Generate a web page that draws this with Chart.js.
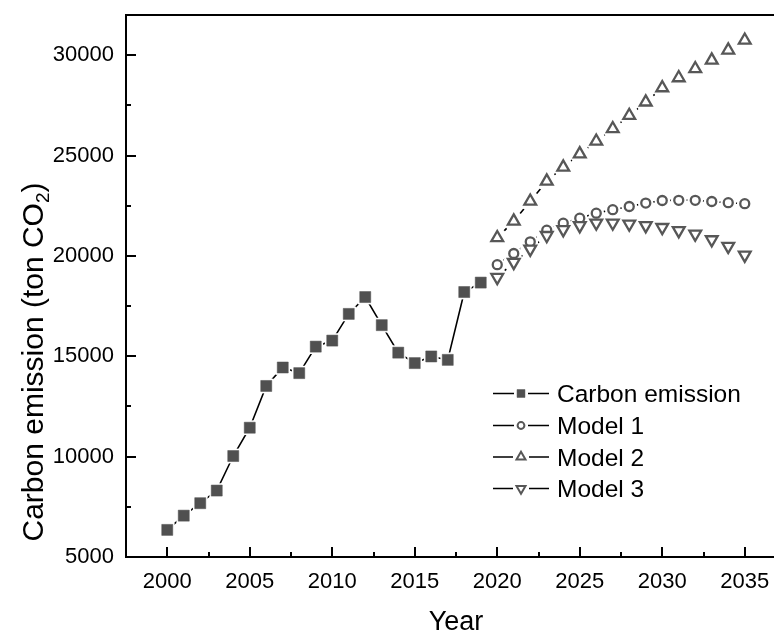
<!DOCTYPE html>
<html>
<head>
<meta charset="utf-8">
<title>Carbon emission and model forecasts</title>
<script src="https://cdn.jsdelivr.net/npm/chart.js@4.4.0/dist/chart.umd.min.js"></script>
<style>
  html, body { margin: 0; padding: 0; background: #fff; overflow: hidden; }
  #wrap { width: 800px; height: 632px; position: relative; }
</style>
</head>
<body>
<div id="wrap"><canvas id="chart"></canvas></div>
<script>
// Observed emissions, 2000-2019 (ton CO2)
const histYears = [2000, 2001, 2002, 2003, 2004, 2005, 2006, 2007, 2008, 2009,
                   2010, 2011, 2012, 2013, 2014, 2015, 2016, 2017, 2018, 2019];
const carbonEmission = [6350, 7060, 7680, 8310, 10030, 11440, 13520, 14440, 14160, 15480,
                        15780, 17110, 17950, 16550, 15180, 14660, 14990, 14820, 18200, 18670];

// Forecasts, 2020-2035
const forecastYears = [2020, 2021, 2022, 2023, 2024, 2025, 2026, 2027,
                       2028, 2029, 2030, 2031, 2032, 2033, 2034, 2035];
const model1 = [19560, 20120, 20700, 21280, 21630, 21880, 22130, 22300,
                22460, 22630, 22760, 22770, 22770, 22710, 22650, 22600];
const model2 = [20900, 21730, 22720, 23720, 24420, 25080, 25710, 26330,
                26990, 27660, 28370, 28870, 29320, 29750, 30250, 30740];
const model3 = [18930, 19680, 20340, 21020, 21310, 21510, 21640, 21640,
                21590, 21510, 21420, 21260, 21090, 20810, 20480, 20040];

const seriesNames = ['Carbon emission', 'Model 1', 'Model 2', 'Model 3'];
const xTickValues = [2000, 2005, 2010, 2015, 2020, 2025, 2030, 2035];
const yTickValues = [5000, 10000, 15000, 20000, 25000, 30000];
const xTitle = 'Year';
const yTitleParts = ['Carbon emission (ton CO', '2', ')'];

const FONT = '"Liberation Sans", Arial, Helvetica, sans-serif';
const MARK = '#575757';
const SQUARE = '#505050';

const toPoints = (xs, ys) => xs.map((x, i) => ({ x: x, y: ys[i] }));

const markerStyles = [
  { pointStyle: 'rect', pointRadius: 7.8, pointRotation: 0, pointBackgroundColor: SQUARE, pointBorderColor: SQUARE, pointBorderWidth: 0.5 },
  { pointStyle: 'circle', pointRadius: 4.5, pointRotation: 0, pointBackgroundColor: '#fff', pointBorderColor: MARK, pointBorderWidth: 2.3 },
  { pointStyle: 'triangle', pointRadius: 6.8, pointRotation: 0, pointBackgroundColor: '#fff', pointBorderColor: MARK, pointBorderWidth: 2.3 },
  { pointStyle: 'triangle', pointRadius: 6.8, pointRotation: 180, pointBackgroundColor: '#fff', pointBorderColor: MARK, pointBorderWidth: 2.3 }
];

const seriesData = [
  toPoints(histYears, carbonEmission),
  toPoints(forecastYears, model1),
  toPoints(forecastYears, model2),
  toPoints(forecastYears, model3)
];

const datasets = seriesData.map((d, i) => Object.assign({
  label: seriesNames[i],
  data: d,
  borderColor: '#000',
  borderWidth: 1.6,
  tension: 0,
  fill: false,
  order: i
}, markerStyles[i]));

// Open gaps in the connecting lines around every marker, then redraw the markers on top
const markerGaps = {
  id: 'markerGaps',
  afterDatasetsDraw(chart) {
    const ctx = chart.ctx;
    const area = chart.chartArea;
    const metas = chart.getSortedVisibleDatasetMetas();
    ctx.save();
    ctx.fillStyle = '#fff';
    metas.forEach(meta => meta.data.forEach(el => {
      const o = el.options;
      const r = o.pointStyle === 'rect' ? o.radius + 2.6 : o.radius + o.borderWidth / 2 + 2.2;
      Chart.helpers.drawPoint(ctx, { pointStyle: o.pointStyle === 'rect' ? 'rect' : 'circle', rotation: 0, radius: r, borderWidth: 0 }, el.x, el.y);
    }));
    ctx.restore();
    metas.forEach(meta => meta.data.forEach(el => el.draw(ctx, area)));
  }
};

// Axis frame with inward major/minor ticks, axis titles and the legend
const frame = {
  id: 'frame',
  afterDraw(chart) {
    const ctx = chart.ctx;
    const a = chart.chartArea;
    const xs = chart.scales.x, ys = chart.scales.y;
    ctx.save();
    ctx.strokeStyle = '#000';
    ctx.lineWidth = 2;
    ctx.lineCap = 'square';
    ctx.beginPath();
    ctx.rect(a.left, a.top, a.right - a.left, a.bottom - a.top);
    ctx.stroke();

    ctx.lineCap = 'butt';
    ctx.beginPath();
    xTickValues.forEach((v, i) => {
      const px = Math.round(xs.getPixelForValue(v));
      ctx.moveTo(px, a.bottom); ctx.lineTo(px, a.bottom - 10);
      if (i < xTickValues.length - 1) {
        const mx = Math.round(xs.getPixelForValue((v + xTickValues[i + 1]) / 2));
        ctx.moveTo(mx, a.bottom); ctx.lineTo(mx, a.bottom - 5);
      }
    });
    yTickValues.forEach((v, i) => {
      const py = Math.round(ys.getPixelForValue(v));
      ctx.moveTo(a.left, py); ctx.lineTo(a.left + 10, py);
      if (i < yTickValues.length - 1) {
        const my = Math.round(ys.getPixelForValue((v + yTickValues[i + 1]) / 2));
        ctx.moveTo(a.left, my); ctx.lineTo(a.left + 5, my);
      }
    });
    ctx.stroke();

    // axis titles
    ctx.fillStyle = '#000';
    ctx.textBaseline = 'alphabetic';
    ctx.font = '27px ' + FONT;
    ctx.textAlign = 'center';
    ctx.fillText(xTitle, (a.left + a.right) / 2, 630);

    const big = '30px ' + FONT, small = '19px ' + FONT;
    ctx.font = big;
    const w0 = ctx.measureText(yTitleParts[0]).width;
    const w2 = ctx.measureText(yTitleParts[2]).width;
    ctx.font = small;
    const w1 = ctx.measureText(yTitleParts[1]).width;
    const total = w0 + w1 + w2;
    ctx.translate(43, 362);
    ctx.rotate(-Math.PI / 2);
    ctx.textAlign = 'left';
    let x = -total / 2;
    ctx.font = big; ctx.fillText(yTitleParts[0], x, 0); x += w0;
    ctx.font = small; ctx.fillText(yTitleParts[1], x, 6); x += w1;
    ctx.font = big; ctx.fillText(yTitleParts[2], x, 0);
    ctx.restore();

    // legend: line - marker - line, then the series name
    const rowY = [393.5, 425.5, 457, 488.5];
    const legendMarks = [
      { pointStyle: 'rect', radius: 5.6, rotation: 0, fill: SQUARE, stroke: SQUARE, bw: 0.5, gap: 7 },
      { pointStyle: 'circle', radius: 3.4, rotation: 0, fill: '#fff', stroke: MARK, bw: 2, gap: 7 },
      { pointStyle: 'triangle', radius: 5.2, rotation: 0, fill: '#fff', stroke: MARK, bw: 2, gap: 8 },
      { pointStyle: 'triangle', radius: 5.2, rotation: 180, fill: '#fff', stroke: MARK, bw: 2, gap: 8 }
    ];
    ctx.save();
    seriesNames.forEach((name, i) => {
      const y = rowY[i], cx = 521, m = legendMarks[i];
      ctx.strokeStyle = '#000';
      ctx.lineWidth = 1.6;
      ctx.beginPath();
      ctx.moveTo(493, y); ctx.lineTo(cx - m.gap, y);
      ctx.moveTo(cx + m.gap, y); ctx.lineTo(549, y);
      ctx.stroke();
      ctx.fillStyle = m.fill;
      ctx.strokeStyle = m.stroke;
      ctx.lineWidth = m.bw;
      Chart.helpers.drawPoint(ctx, { pointStyle: m.pointStyle, rotation: m.rotation, radius: m.radius, borderWidth: m.bw }, cx, y);
      ctx.fillStyle = '#000';
      ctx.font = '24.5px ' + FONT;
      ctx.textAlign = 'left';
      ctx.textBaseline = 'alphabetic';
      ctx.fillText(name, 557, y + 8.8);
    });
    ctx.restore();
  }
};

// Keep the plot frame fixed: no extra room reserved for edge tick labels
const noEdgePadding = s => { s.paddingTop = 0; s.paddingBottom = 0; s.paddingLeft = 0; s.paddingRight = 0; };

new Chart(document.getElementById('chart'), {
  type: 'line',
  data: { datasets: datasets },
  options: {
    responsive: true,
    maintainAspectRatio: false,
    animation: false,
    devicePixelRatio: 1,
    layout: { padding: { left: 0, top: 15, right: 14, bottom: 0 } },
    plugins: { legend: { display: false }, tooltip: { enabled: false } },
    scales: {
      x: {
        type: 'linear',
        min: 1997.5,
        max: 2037.5,
        afterBuildTicks: s => { s.ticks = xTickValues.map(v => ({ value: v })); },
        afterFit: s => { s.height = 75; noEdgePadding(s); },
        grid: { display: false, drawTicks: false },
        border: { display: false },
        ticks: {
          padding: 12,
          color: '#000',
          font: { family: FONT, size: 22 },
          maxRotation: 0,
          callback: v => String(v)
        }
      },
      y: {
        type: 'linear',
        min: 5000,
        max: 32000,
        afterBuildTicks: s => { s.ticks = yTickValues.map(v => ({ value: v })); },
        afterFit: s => { s.width = 126; noEdgePadding(s); },
        grid: { display: false, drawTicks: false },
        border: { display: false },
        ticks: {
          padding: 12,
          color: '#000',
          font: { family: FONT, size: 22 },
          callback: v => String(v)
        }
      }
    }
  },
  plugins: [markerGaps, frame]
});
</script>
</body>
</html>
